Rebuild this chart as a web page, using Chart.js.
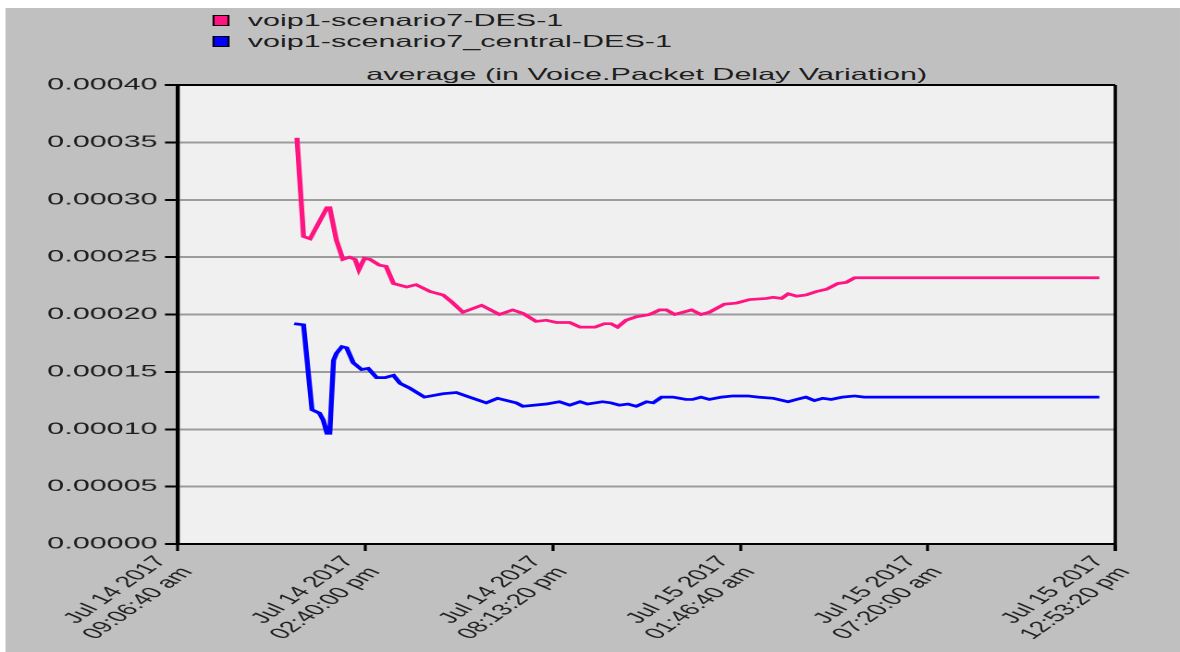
<!DOCTYPE html>
<html>
<head>
<meta charset="utf-8">
<script src="https://cdn.jsdelivr.net/npm/chart.js@4.4.1/dist/chart.umd.min.js"></script>
<style>
  html, body { margin: 0; padding: 0; background: #fff; overflow: hidden; }
  /* the reference is stretched sideways, so draw narrow and stretch the whole thing */
  #stretch { position: absolute; left: 0; top: 0; width: 638px; height: 652px; transform: scaleX(1.8495); transform-origin: 0 0; }
  #panel { position: absolute; left: 3.2px; top: 8px; right: 0; bottom: 0; background: #c0c0c0; }
  #chart { position: absolute; left: 0; top: 0; width: 638px; height: 652px; }
  .txt { position: absolute; font: 16.5px 'Liberation Sans', Arial, sans-serif; color: #1e1e1e; line-height: 22px; white-space: nowrap; }
  .swatch { position: absolute; left: 115px; width: 7.4px; height: 9px; border: 1px solid #000; }
  #title { left: 96.2px; width: 507px; top: 63px; text-align: center; }
</style>
</head>
<body>
<div id="stretch">
  <div id="panel"></div>
  <div class="swatch" style="top:15px; background:#ff1482"></div>
  <div class="txt" style="left:134px; top:9px">voip1-scenario7-DES-1</div>
  <div class="swatch" style="top:36px; background:#0000ff"></div>
  <div class="txt" style="left:134px; top:30px">voip1-scenario7_central-DES-1</div>
  <div class="txt" id="title">average (in Voice.Packet Delay Variation)</div>
  <canvas id="chart" width="638" height="652"></canvas>
</div>
<script>
// seconds since Jul 14 2017 09:06:40 am
const tickTimes = [0, 20000, 40000, 60000, 80000, 100000];
const tickLabels = [
  ['Jul 14 2017', '09:06:40 am'],
  ['Jul 14 2017', '02:40:00 pm'],
  ['Jul 14 2017', '08:13:20 pm'],
  ['Jul 15 2017', '01:46:40 am'],
  ['Jul 15 2017', '07:20:00 am'],
  ['Jul 15 2017', '12:53:20 pm']
];
const yTicks = [0, 0.00005, 0.0001, 0.00015, 0.0002, 0.00025, 0.0003, 0.00035, 0.0004];

const pinkTime = [12700, 13400, 14100, 15900, 16200, 16900, 17600, 18300, 18900, 19300,
  19900, 20500, 21500, 22200, 23000, 24400, 25400, 26900, 28300, 29200,
  30400, 32400, 34300, 35700, 36800, 38200, 39300, 40400, 41800, 42900,
  44500, 45500, 46200, 46900, 47800, 48900, 50300, 51400, 52100, 53000,
  54800, 55800, 56700, 58300, 59600, 61000, 62800, 63500, 64400, 65100,
  66000, 67000, 68100, 69200, 70400, 71300, 72200, 98300];
const pinkVal = [0.000354, 0.000268, 0.000266, 0.000293, 0.000293, 0.000265, 0.000248, 0.000250, 0.000248, 0.000239,
  0.000249, 0.000248, 0.000243, 0.000242, 0.000227, 0.000224, 0.000226, 0.000220, 0.000217, 0.000211,
  0.000202, 0.000208, 0.000200, 0.000204, 0.000201, 0.000194, 0.000195, 0.000193, 0.000193, 0.000189,
  0.000189, 0.000192, 0.000192, 0.000189, 0.000195, 0.000198, 0.000200, 0.000204, 0.000204, 0.000200,
  0.000204, 0.000200, 0.000202, 0.000209, 0.000210, 0.000213, 0.000214, 0.000215, 0.000214, 0.000218,
  0.000216, 0.000217, 0.000220, 0.000222, 0.000227, 0.000228, 0.000232, 0.000232];

const blueTime = [12400, 13400, 14300, 15100, 15500, 15900, 16200, 16600, 16900, 17500,
  18000, 18700, 19600, 20300, 21200, 22100, 23000, 23700, 24700, 26300,
  28300, 29700, 31100, 32900, 34100, 36100, 36800, 39300, 40700, 41800,
  42900, 43700, 45300, 46200, 47100, 48000, 48900, 50000, 50700, 51600,
  52800, 54200, 54900, 55800, 56700, 58000, 59200, 60800, 61900, 63500,
  65100, 66000, 67000, 67900, 68800, 69700, 70900, 72200, 73200, 98300];
const blueVal = [0.000192, 0.000191, 0.000117, 0.000114, 0.000108, 0.0000965, 0.0000965, 0.000160, 0.000166, 0.000172,
  0.000171, 0.000158, 0.000152, 0.000153, 0.000145, 0.000145, 0.000147, 0.000140, 0.000136, 0.000128,
  0.000131, 0.000132, 0.000128, 0.000123, 0.000127, 0.000123, 0.000120, 0.000122, 0.000124, 0.000121,
  0.000124, 0.000122, 0.000124, 0.000123, 0.000121, 0.000122, 0.000120, 0.000124, 0.000123, 0.000128,
  0.000128, 0.000126, 0.000126, 0.000128, 0.000126, 0.000128, 0.000129, 0.000129, 0.000128, 0.000127,
  0.000124, 0.000126, 0.000128, 0.000125, 0.000127, 0.000126, 0.000128, 0.000129, 0.000128, 0.000128];

const fontFamily = "'Liberation Sans', Arial, sans-serif";

// plot background plus the top/right frame lines
const frame = {
  id: 'frame',
  beforeDraw(chart) {
    const a = chart.chartArea, c = chart.ctx;
    c.save();
    c.fillStyle = '#f0f0f0';
    c.fillRect(a.left, a.top, a.right - a.left, a.bottom - a.top);
    c.restore();
  },
  afterDraw(chart) {
    const a = chart.chartArea, c = chart.ctx;
    c.save();
    c.strokeStyle = '#000';
    c.lineWidth = 2;
    c.beginPath();
    c.moveTo(a.left - 7, a.top);
    c.lineTo(a.right, a.top);
    c.stroke();
    c.lineWidth = 1.8;
    c.beginPath();
    c.moveTo(a.right, a.top);
    c.lineTo(a.right, a.bottom + 7);
    c.stroke();
    c.restore();
  }
};

new Chart(document.getElementById('chart'), {
  type: 'line',
  data: {
    datasets: [
      {
        label: 'voip1-scenario7-DES-1',
        data: pinkTime.map((t, i) => ({ x: t, y: pinkVal[i] })),
        borderColor: '#ff1482',
        borderWidth: 2.7,
        pointRadius: 0,
        tension: 0,
        fill: false
      },
      {
        label: 'voip1-scenario7_central-DES-1',
        data: blueTime.map((t, i) => ({ x: t, y: blueVal[i] })),
        borderColor: '#0000ff',
        borderWidth: 2.7,
        pointRadius: 0,
        tension: 0,
        fill: false
      }
    ]
  },
  options: {
    responsive: false,
    animation: false,
    devicePixelRatio: 2,
    layout: { padding: { left: 0, top: 85, right: 35, bottom: 0 } },
    plugins: { legend: { display: false }, tooltip: { enabled: false }, title: { display: false } },
    scales: {
      x: {
        type: 'linear',
        min: tickTimes[0],
        max: tickTimes[tickTimes.length - 1],
        afterFit: s => { s.height = 108; },
        afterBuildTicks: s => { s.ticks = tickTimes.map(v => ({ value: v })); },
        ticks: {
          autoSkip: false,
          minRotation: 52,
          maxRotation: 52,
          padding: 2,
          labelOffset: -9,
          color: '#1e1e1e',
          font: { family: fontFamily, size: 15.5, lineHeight: 1.15 },
          callback: (v, i) => tickLabels[i]
        },
        grid: { drawOnChartArea: false, tickLength: 7, tickColor: '#000', tickWidth: 1.6 },
        border: { color: '#000', width: 2 }
      },
      y: {
        min: yTicks[0],
        max: yTicks[yTicks.length - 1],
        afterFit: s => { s.width = 96.2; },
        afterBuildTicks: s => { s.ticks = yTicks.map(v => ({ value: v })); },
        ticks: {
          padding: 4,
          color: '#1e1e1e',
          font: { family: fontFamily, size: 16.5 },
          callback: v => v.toFixed(5)
        },
        grid: { color: '#9c9c9c', lineWidth: 2, tickLength: 7, tickColor: '#000', tickWidth: 2 },
        border: { color: '#000', width: 2.2 }
      }
    }
  },
  plugins: [frame]
});
</script>
</body>
</html>
